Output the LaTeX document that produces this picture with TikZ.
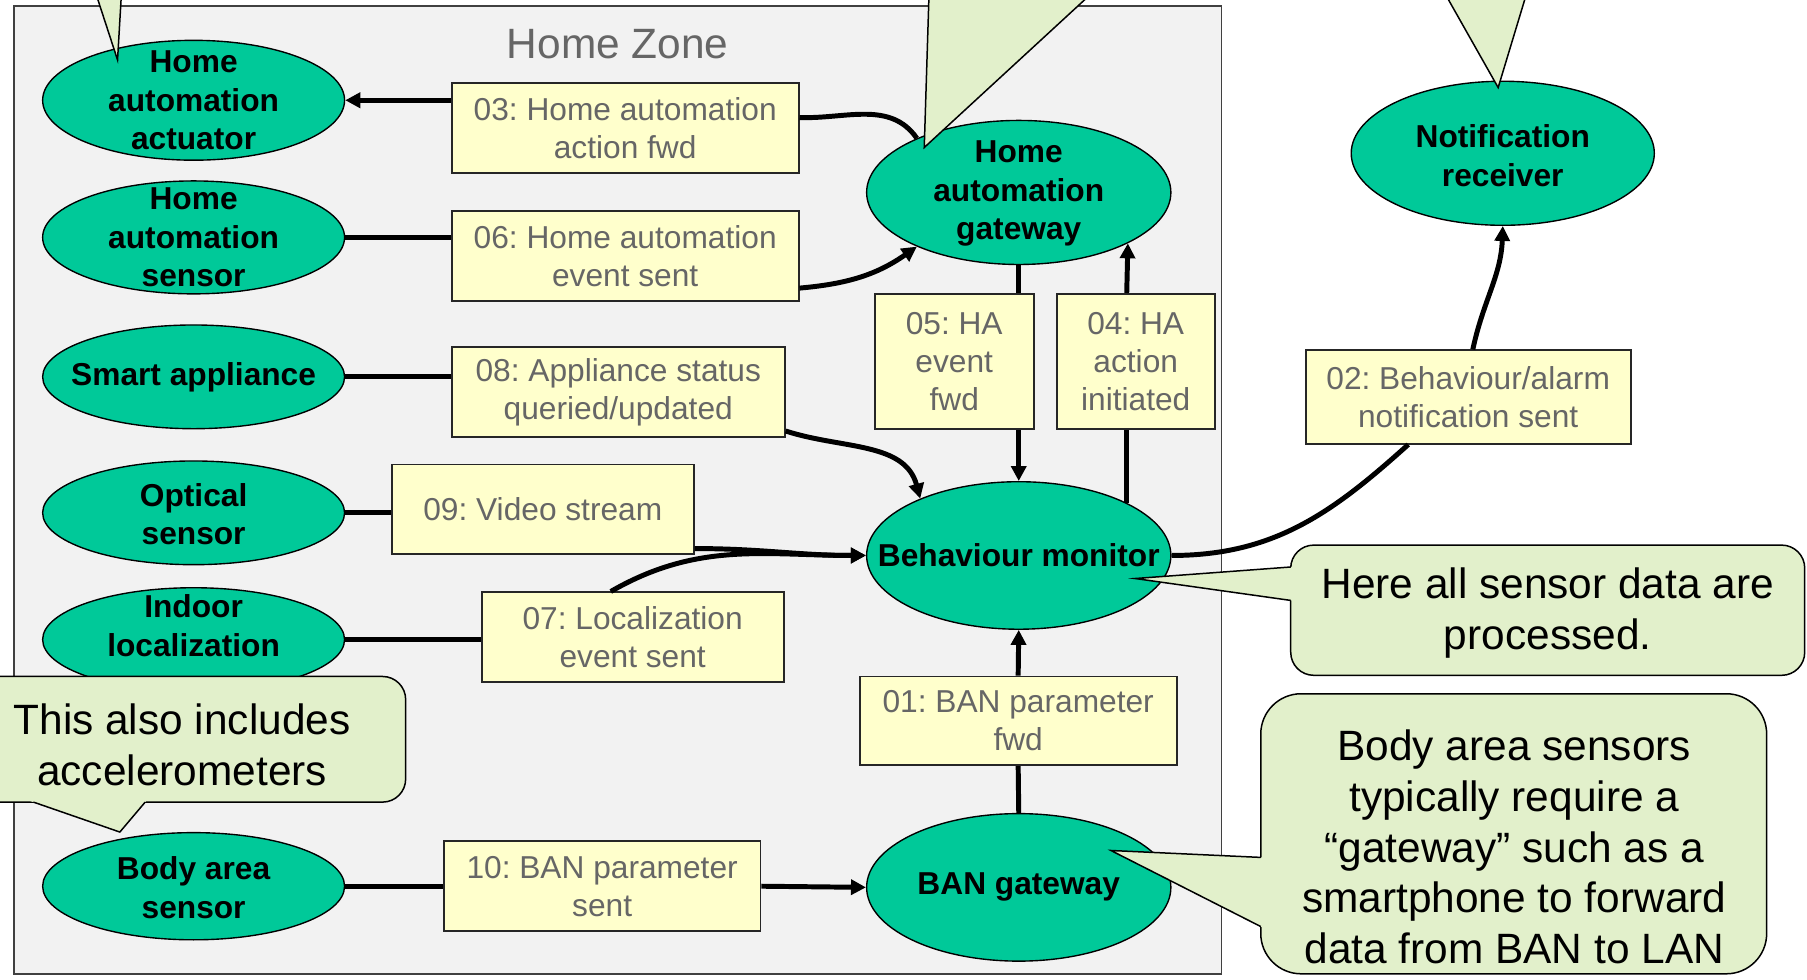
\documentclass[tikz,border=0pt]{standalone}
\usepackage{fontspec}
\setmainfont{Liberation Sans}
\usetikzlibrary{shapes.geometric,arrows.meta}
\definecolor{ellgreen}{HTML}{00C999}
\definecolor{lblyellow}{HTML}{FFFFCC}
\definecolor{lblgray}{HTML}{666666}
\definecolor{zonegray}{HTML}{F2F2F2}
\definecolor{callgreen}{HTML}{E2F0CB}
\frenchspacing
\begin{document}
\begin{tikzpicture}[x=1pt,y=-1pt,
  ell/.style={ellipse,draw=black,line width=1.2pt,fill=ellgreen,inner sep=0pt},
  elltext/.style={font=\bfseries\fontsize{27.5}{33.5}\selectfont,align=center,inner sep=0pt,text=black},
  lbl/.style={draw=black!85,line width=1.5pt,fill=lblyellow,text=lblgray,font=\fontsize{27.5}{33}\selectfont,align=center,inner sep=0pt},
  conn/.style={line width=4.3pt,draw=black},
  arr/.style={conn,-{Triangle[length=13pt,width=13pt]}},
  callout/.style={draw=black,line width=1.3pt,fill=callgreen},
  calledge/.style={draw=black,line width=1.3pt},
  calltext/.style={font=\fontsize{36.8}{44}\selectfont,align=center,inner sep=0pt,text=black}
]
\useasboundingbox (0,0) rectangle (1568,850);
\clip (0,0) rectangle (1568,850);
\fill[white] (0,0) rectangle (1568,850);
% zone
\node[draw=black!75, line width=1.5pt, fill=zonegray, minimum width=1048pt, minimum height=840pt, inner sep=0pt] (zone) at (536,425) {};
\node[font=\fontsize{36.8}{44}\selectfont, text=lblgray, inner sep=0pt] (zonetitle) at (536,38) {Home Zone};
% ellipses
\node[ell,minimum width=262pt,minimum height=104pt] (act) at (168,87) {};
\node[elltext] (acttxt) at (168,87) {Home\\automation\\actuator};
\node[ell,minimum width=262pt,minimum height=98pt] (sen) at (168,206) {};
\node[elltext] (sentxt) at (168,206) {Home\\automation\\sensor};
\node[ell,minimum width=262pt,minimum height=90pt] (sma) at (168,327) {};
\node[elltext] (smatxt) at (168,327) {Smart appliance};
\node[ell,minimum width=262pt,minimum height=90pt] (opt) at (168,445) {};
\node[elltext] (opttxt) at (168,446) {Optical\\sensor};
\node[ell,minimum width=262pt,minimum height=90pt] (ind) at (168,555) {};
\node[elltext] (indtxt) at (168,543) {Indoor\\localization};
\node[ell,minimum width=262pt,minimum height=93pt] (bas) at (168,769) {};
\node[elltext] (bastxt) at (168,770) {Body area\\sensor};
\node[ell,minimum width=264pt,minimum height=125pt] (gw) at (884,167) {};
\node[elltext] (gwtxt) at (884,168) {Home\\automation\\gateway};
\node[ell,minimum width=264pt,minimum height=128pt] (mon) at (884,482) {};
\node[elltext] (montxt) at (884,482) {Behaviour monitor};
\node[ell,minimum width=264pt,minimum height=128pt] (ban) at (884,770) {};
\node[elltext] (bantxt) at (884,770) {BAN gateway};
\node[ell,minimum width=263pt,minimum height=125pt] (notif) at (1304,133) {};
\node[elltext] (notiftxt) at (1304,135) {Notification\\receiver};
% label boxes
\node[lbl,minimum width=301pt,minimum height=78pt] (b03) at (542.5,111) {03: Home automation\\action fwd};
\node[lbl,minimum width=301pt,minimum height=78pt] (b06) at (542.5,222) {06: Home automation\\event sent};
\node[lbl,minimum width=289pt,minimum height=78pt] (b08) at (536.5,340) {08: Appliance status\\queried/updated};
\node[lbl,minimum width=262pt,minimum height=78pt] (b09) at (471,442) {09: Video stream};
\node[lbl,minimum width=262pt,minimum height=78pt] (b07) at (549,553) {07: Localization\\event sent};
\node[lbl,minimum width=138pt,minimum height=117pt] (b05) at (828,313.5) {05: HA\\event\\fwd};
\node[lbl,minimum width=137pt,minimum height=117pt] (b04) at (985.5,313.5) {04: HA\\action\\initiated};
\node[lbl,minimum width=282pt,minimum height=81pt] (b02) at (1274,344.5) {02: Behaviour/alarm\\notification sent};
\node[lbl,minimum width=275pt,minimum height=77pt] (b01) at (883.5,625.5) {01: BAN parameter\\fwd};
\node[lbl,minimum width=275pt,minimum height=78pt] (b10) at (522.5,769) {10: BAN parameter\\sent};
% connectors
\draw[arr] (act.east -| b03.west) -- (act.east);
\draw[conn] ([yshift=9pt]b03.east) to[out=-2,in=125] (gw.152);
\draw[conn] (sen.east) -- (sen.east -| b06.west);
\draw[arr] ([yshift=-28pt]b06.east) to[out=5,in=215] (gw.208);
\draw[conn] (sma.east) -- (sma.east -| b08.west);
\draw[arr] ([yshift=-34pt]b08.east) to[out=-18,in=105] (mon.150);
\draw[conn] (opt.east) -- (opt.east -| b09.west);
\draw[arr] ([yshift=-34pt]b09.east) to[out=0,in=180] (mon.west);
\draw[conn] (ind.east) -- (ind.east -| b07.west);
\draw[arr] ([xshift=-19pt]b07.north) to[out=30,in=180] (mon.west);
\draw[conn] (gw.south) -- (gw.south |- b05.north);
\draw[arr] (b05.south -| mon.north) -- (mon.north);
\draw[conn] (mon.26) -- (mon.26 |- b04.south);
\draw[arr] (mon.26 |- b04.north) -- (gw.-25.5);
\draw[conn] (mon.east) to[out=0,in=222] ([xshift=-52pt]b02.south);
\draw[arr] ([xshift=4pt]b02.north) to[out=78,in=268] (notif.south);
\draw[conn] (ban.north) -- (b01.south);
\draw[arr] (b01.north) -- (mon.south);
\draw[conn] (bas.east) -- (b10.west);
\draw[arr] (b10.east) -- (ban.west);
% callouts cut by the top edge (pointers only visible)
\draw[callout] (78.5,-20) -- (102,52) -- (106.2,-20);
\draw[callout] (806.6,-20) -- (802,128) -- (962.7,-20);
\draw[callout] (1245.7,-20) -- (1300,76) -- (1329,-20);
% callout: Here all sensor data
\draw[callout,rounded corners=20pt] (1120,473) rectangle (1566,586);
\fill[callgreen] (985,502) -- (1126,521.8) -- (1126,491.6) -- cycle;
\draw[calledge] (1120,521) -- (985,502) -- (1120,492);
\node[calltext] (t1) at (1343,532) {Here all sensor data are\\processed.};
% callout: Body area sensors
\draw[callout,rounded corners=35pt] (1094,602) rectangle (1533,845);
\fill[callgreen] (964,738) -- (1100,744.3) -- (1100,807) -- cycle;
\draw[calledge] (1094,744) -- (964,738) -- (1094,804);
\node[calltext] (t2) at (1314,735) {Body area sensors\\typically require a\\“gateway” such as a\\smartphone to forward\\data from BAN to LAN};
% callout: This also includes
\draw[callout,rounded corners=20pt] (-40,587) rectangle (352,696);
\fill[callgreen] (104,722) -- (11.7,690) -- (131.1,690) -- cycle;
\draw[calledge] (29,696) -- (104,722) -- (126,696);
\node[calltext] (t3) at (158,646.5) {This also includes\\accelerometers};
\end{tikzpicture}
\end{document}
